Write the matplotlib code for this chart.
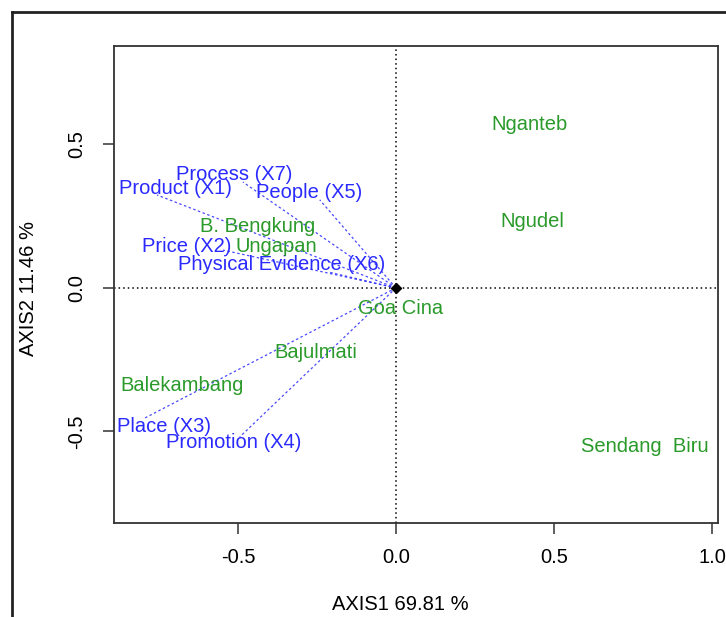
"""Biplot of marketing-mix variables and beach sites (AXIS1 vs AXIS2)."""

import matplotlib
matplotlib.use("Agg")
import matplotlib.pyplot as plt
from matplotlib.lines import Line2D

plt.rcParams["font.family"] = ["Liberation Sans", "DejaVu Sans"]
plt.rcParams["axes.unicode_minus"] = False

# variable vectors (end of dotted line) and where their labels sit
var_names = ["Product (X1)", "Price (X2)", "Place (X3)", "Promotion (X4)",
             "People (X5)", "Physical Evidence (X6)", "Process (X7)"]
var_x = [-0.756, -0.547, -0.794, -0.494, -0.241, -0.215, -0.484]
var_y = [0.324, 0.132, -0.453, -0.519, 0.307, 0.056, 0.369]
var_lab_x = [-0.699, -0.661, -0.734, -0.513, -0.275, -0.361, -0.513]
var_lab_y = [0.345, 0.143, -0.484, -0.540, 0.331, 0.080, 0.397]

# site scores
site_names = ["Nganteb", "Ngudel", "B. Bengkung", "Ungapan", "Goa Cina",
              "Bajulmati", "Balekambang", "Sendang  Biru"]
site_x = [0.424, 0.430, -0.437, -0.380, 0.016, -0.253, -0.677, 0.788]
site_y = [0.571, 0.230, 0.213, 0.146, -0.073, -0.226, -0.341, -0.554]

xticks = [-0.5, 0.0, 0.5, 1.0]
yticks = [-0.5, 0.0, 0.5]

BLUE = "#2a2aff"
GREEN = "#2a9a2a"
FS = 14.5

fig = plt.figure(figsize=(7.26, 6.17), dpi=100)
ax = fig.add_axes([0.157, 0.1524, 0.832, 0.773])

ax.axhline(0, color="black", lw=1.1, ls=(0, (1, 2)))
ax.axvline(0, color="black", lw=1.1, ls=(0, (1, 2)))

for x, y in zip(var_x, var_y):
    ax.plot([0, x], [0, y], color=BLUE, lw=0.9, ls=(0, (2, 2)), alpha=0.85)

for name, x, y in zip(var_names, var_lab_x, var_lab_y):
    ax.text(x, y, name, color=BLUE, fontsize=FS, ha="center", va="center")

for name, x, y in zip(site_names, site_x, site_y):
    ax.text(x, y, name, color=GREEN, fontsize=FS, ha="center", va="center")

ax.plot([0], [0], marker="D", color="black", ms=5)

ax.set_xlim(-0.892, 1.019)
ax.set_ylim(-0.819, 0.843)
ax.set_xticks(xticks)
ax.set_xticklabels([f"{t:.1f}" for t in xticks])
ax.set_yticks(yticks)
ax.set_yticklabels([f"{t:.1f}" for t in yticks], rotation=90, va="center")
ax.tick_params(direction="out", length=8, width=1.1, labelsize=FS,
               color="#333333")
ax.tick_params(axis="x", pad=10)
ax.tick_params(axis="y", pad=12)
for s in ax.spines.values():
    s.set_linewidth(1.3)
    s.set_color("#333333")

fig.text(0.551, 1 - 604 / 617, "AXIS1 69.81 %", fontsize=FS,
         ha="center", va="center")
fig.text(28 / 726, 1 - 288 / 617, "AXIS2 11.46 %", fontsize=FS,
         ha="center", va="center", rotation=90)

# outer frame that runs off the bottom and right of the picture
fx, fy = 12 / 726, 1 - 12 / 617
fig.add_artist(Line2D([fx, fx], [fy, -0.05], color="#222222", lw=2))
fig.add_artist(Line2D([fx, 1.05], [fy, fy], color="#222222", lw=2))

fig.savefig("out.png", dpi=100)
